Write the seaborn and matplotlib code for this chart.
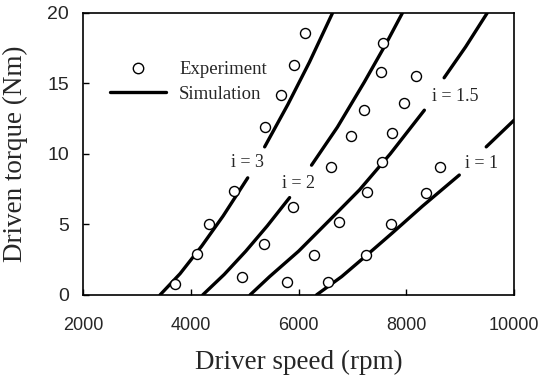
import numpy as np
import pandas as pd
import matplotlib
matplotlib.use("Agg")
import matplotlib.pyplot as plt
import seaborn as sns
from matplotlib.lines import Line2D

# ---------------- data ----------------
# Experiment points (speed rpm, torque Nm)
exp_i3_x = [3704, 4111, 4333, 4796, 5370, 5667, 5907, 6111]
exp_i3_y = [0.8, 2.9, 5.0, 7.4, 11.9, 14.2, 16.3, 18.6]
exp_i2_x = [4950, 5352, 5889, 6593, 6981, 7204, 7537, 7574]
exp_i2_y = [1.3, 3.6, 6.2, 9.1, 11.3, 13.1, 15.8, 17.9]
exp_i15_x = [5778, 6280, 6741, 7278, 7550, 7741, 7963, 8180]
exp_i15_y = [0.9, 2.8, 5.2, 7.3, 9.4, 11.5, 13.6, 15.5]
exp_i1_x = [6537, 7259, 7722, 8370, 8630]
exp_i1_y = [0.9, 2.8, 5.0, 7.2, 9.1]

# Simulation curves, split where the labels interrupt them
sim_i3_a_x = [3430, 3800, 4200, 4600, 5056]
sim_i3_a_y = [0.0, 1.5, 3.45, 5.6, 8.3]
sim_i3_b_x = [5370, 5800, 6200, 6630]
sim_i3_b_y = [10.5, 13.5, 16.5, 20.0]
sim_i2_a_x = [4222, 4620, 5020, 5420, 5833]
sim_i2_a_y = [0.0, 1.45, 3.1, 4.9, 6.9]
sim_i2_b_x = [6240, 6720, 7220, 7620, 7926]
sim_i2_b_y = [9.2, 11.9, 15.1, 17.8, 20.0]
sim_i15_a_x = [5100, 5463, 6000, 6574, 7130, 7700, 8333]
sim_i15_a_y = [0.0, 1.3, 3.1, 5.3, 7.45, 10.0, 13.1]
sim_i15_b_x = [8700, 9100, 9500]
sim_i15_b_y = [15.4, 17.6, 20.0]
sim_i1_a_x = [6333, 6800, 7259, 7741, 8300, 8981]
sim_i1_a_y = [0.0, 1.3, 2.8, 4.4, 6.3, 8.5]
sim_i1_b_x = [9481, 10000]
sim_i1_b_y = [10.5, 12.4]

ratio_labels = ["i = 3", "i = 2", "i = 1.5", "i = 1"]
label_pos = [(5060, 9.4), (5990, 7.9), (8900, 14.1), (9400, 9.3)]

xticks = [2000, 4000, 6000, 8000, 10000]
yticks = [0, 5, 10, 15, 20]

# ---------------- build tables ----------------
exp_df = pd.DataFrame({
    "speed": exp_i3_x + exp_i2_x + exp_i15_x + exp_i1_x,
    "torque": exp_i3_y + exp_i2_y + exp_i15_y + exp_i1_y,
})
exp_df["kind"] = "Experiment"

segs = [
    ("i3a", sim_i3_a_x, sim_i3_a_y), ("i3b", sim_i3_b_x, sim_i3_b_y),
    ("i2a", sim_i2_a_x, sim_i2_a_y), ("i2b", sim_i2_b_x, sim_i2_b_y),
    ("i15a", sim_i15_a_x, sim_i15_a_y), ("i15b", sim_i15_b_x, sim_i15_b_y),
    ("i1a", sim_i1_a_x, sim_i1_a_y), ("i1b", sim_i1_b_x, sim_i1_b_y),
]
sim_df = pd.concat([pd.DataFrame({"speed": x, "torque": y, "seg": s})
                    for s, x, y in segs], ignore_index=True)
sim_df["kind"] = "Simulation"

# ---------------- plot ----------------
sns.set_style("ticks")
plt.rcParams["font.family"] = ["Liberation Serif", "DejaVu Serif"]

fig = plt.figure(figsize=(5.39, 3.80), dpi=100)
ax = fig.add_axes([0.154, 0.224, 0.800, 0.742])

sns.lineplot(data=sim_df, x="speed", y="torque", units="seg", estimator=None,
             sort=False, color="black", linewidth=2.4, ax=ax, legend=False)
sns.scatterplot(data=exp_df, x="speed", y="torque", marker="o", s=52,
                facecolor="white", edgecolor="black", linewidth=1.0,
                ax=ax, legend=False, zorder=3)

for lab, (lx, ly) in zip(ratio_labels, label_pos):
    ax.text(lx, ly, lab, ha="center", va="center", fontsize=13,
            family=["Liberation Serif"])

h_exp = Line2D([], [], marker="o", linestyle="none", markersize=7.5,
               markerfacecolor="white", markeredgecolor="black", markeredgewidth=1.0)
h_sim = Line2D([], [], color="black", linewidth=2.4)
ax.legend([h_exp, h_sim], ["Experiment", "Simulation"], loc="upper left",
          bbox_to_anchor=(0.023, 0.889), frameon=False, handlelength=3.0,
          handletextpad=0.7, labelspacing=0.39,
          prop={"family": "Liberation Serif", "size": 13.5})

ax.set_xlim(2000, 10000)
ax.set_ylim(0, 20)
ax.set_xticks(xticks)
ax.set_yticks(yticks)
ax.set_xticklabels([str(t) for t in xticks], family="Liberation Sans", fontsize=13)
ax.set_yticklabels([str(t) for t in yticks], family="Liberation Sans", fontsize=14)
ax.tick_params(direction="in", length=4, width=1, color="black")
ax.tick_params(axis="x", pad=16)
ax.tick_params(axis="y", pad=10)
for sp in ax.spines.values():
    sp.set_visible(True)
    sp.set_linewidth(1.2)
    sp.set_color("black")

ax.set_xlabel("Driver speed (rpm)", fontsize=19.5, labelpad=11)
ax.set_ylabel("Driven torque (Nm)", fontsize=19.5)
ax.yaxis.set_label_coords(-0.128, 0.5)

fig.savefig("out.png", dpi=100)
